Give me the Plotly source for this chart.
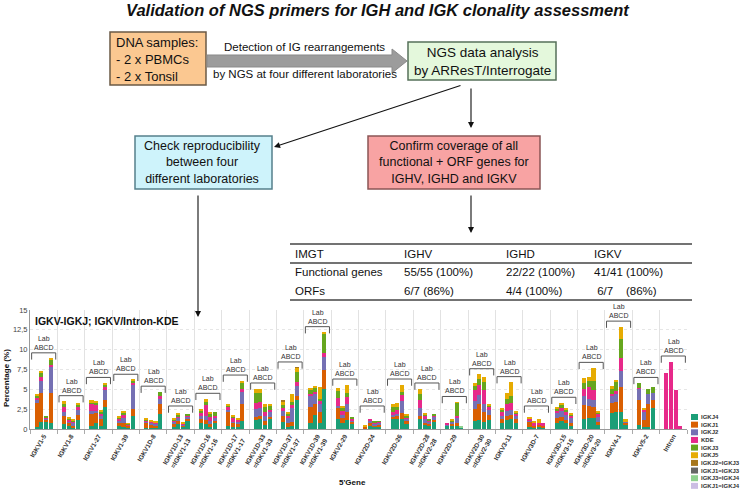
import plotly.graph_objects as go

W, H = 740, 489

# ---------------- data ----------------
genes = ["IGKV1-5", "IGKV1-8", "IGKV1-27", "IGKV1-39", "IGKV1D-8",
         "IGKV1D-13<br>=IGKV1-13", "IGKV1D-16<br>=IGKV1-16", "IGKV1D-17<br>=IGKV1-17",
         "IGKV1D-33<br>=IGKV1-33", "IGKV1D-37<br>=IGKV1-37", "IGKV1D-39<br>=IGKV1-39",
         "IGKV2-29", "IGKV2D-24", "IGKV2D-26", "IGKV2D-28<br>=IGKV2-28", "IGKV2D-29",
         "IGKV2D-30<br>=IGKV2-30", "IGKV3-11", "IGKV3D-7", "IGKV3D-15<br>=IGKV3-15",
         "IGKV3D-20<br>=IGKV3-20", "IGKV4-1", "IGKV5-2", "Intron"]
labs = ["A", "B", "C", "D"]

series_names = ["IGKJ4", "IGKJ1", "IGKJ2", "KDE", "IGKJ3", "IGKJ5",
                "IGKJ2=IGKJ3", "IGKJ1=IGKJ3", "IGKJ3=IGKJ4", "IGKJ1=IGKJ4"]
series_colors = ["#1b9e77", "#d95f02", "#7570b3", "#e7298a", "#66a61e", "#e6ab02",
                 "#a6761d", "#666666", "#8fd18f", "#cbbde3"]

# values per gene: [lab A, lab B, lab C, lab D]  (percentage)
IGKJ4 = [[0.2, 0.9, 1.0, 0.8], [0.6, 0.4, 0.1, 1.1], [0.4, 0.8, 0.4, 2.8], [0.4, 0.3, 0.2, 1.7],
         [0.1, 0.1, 0.1, 1.9], [0.3, 0.6, 0.2, 1.0], [0.8, 0.6, 0.3, 0.7], [0.4, 0.2, 0.2, 1.0],
         [1.1, 1.2, 0.5, 1.2], [0.9, 0.3, 0.4, 3.7], [0.7, 1.8, 0.8, 5.0], [1.2, 0.8, 1.1, 0.6],
         [0.1, 0.4, 0.2, 0.3], [1.2, 1.2, 1.3, 0.6], [1.2, 0.5, 0.4, 0.9], [0.4, 0.5, 0.4, 0.2],
         [1.0, 1.1, 0.9, 1.1], [0.8, 1.1, 1.2, 0.8], [0.2, 0.2, 0.2, 0.1], [0.8, 1.0, 0.7, 0.4],
         [1.2, 1.4, 1.4, 0.5], [2.0, 2.2, 2.2, 0.6], [0.5, 0.2, 0.2, 2.7], [0, 0, 0, 0]]
IGKJ1 = [[3.1, 3.6, 0.2, 3.8], [1.0, 0.4, 0.3, 0.7], [1.5, 1.2, 0.9, 0.9], [0.4, 0.5, 0.2, 0.8],
         [0.7, 0.5, 0.4, 1.2], [0.3, 0.4, 0.3, 0.3], [0.5, 0.5, 0.3, 0.3], [1.7, 0.6, 0.5, 2.2],
         [0.4, 0.4, 0.5, 0.3], [0.7, 0.5, 0.5, 0.5], [2.1, 1.3, 1.3, 2.4], [1.4, 0.6, 1.0, 0.3],
         [0.2, 0.3, 0.3, 0.3], [0.3, 0.4, 0.7, 0.4], [0.5, 0.3, 0.3, 0.2], [0.1, 0.2, 0.3, 0.0],
         [1.5, 2.0, 1.2, 0.7], [0.4, 0.6, 0.6, 0.4], [0.7, 0.2, 0.4, 0.3], [0.6, 0.5, 0.4, 0.4],
         [1.8, 1.5, 1.4, 0.4], [1.3, 1.2, 3.05, 0.2], [3.2, 0.9, 3.0, 1.0], [0, 0, 0, 0]]
IGKJ2 = [[0.4, 1.5, 0.15, 3.2], [0.6, 0.2, 0.4, 0.6], [0.4, 0.3, 0.4, 1.2], [0.3, 0.6, 0.1, 3.1],
         [0.2, 0.2, 0.2, 0.8], [0.3, 0.4, 0.1, 0.3], [0.4, 0.5, 0.4, 0.4], [0.3, 0.1, 0.2, 1.5],
         [1.0, 1.0, 0.7, 0.6], [0.7, 0.6, 1.8, 1.2], [1.3, 1.3, 1.0, 1.7], [0.3, 0.4, 1.1, 0.2],
         [0.0, 0.4, 0.2, 0.2], [0.3, 0.3, 1.5, 0.3], [1.0, 0.4, 0.2, 0.5], [0.1, 0.2, 0.8, 0.0],
         [1.0, 1.2, 1.0, 0.6], [0.5, 0.6, 0.6, 0.5], [0.1, 0.0, 0.0, 0.0], [0.6, 0.8, 0.7, 0.6],
         [1.1, 0.9, 0.9, 0.6], [0.8, 1.0, 2.1, 0.1], [1.4, 1.1, 1.2, 0.8], [0, 0, 0, 0]]
KDE = [[0.3, 0.5, 0.15, 0.3], [0.6, 0.2, 0.2, 0.4], [0.9, 0.7, 0.3, 0.4], [0.2, 0.4, 0.1, 0.2],
       [0.1, 0.1, 0.1, 0.2], [0.2, 0.2, 0.1, 0.1], [0.4, 1.4, 0.5, 0.2], [0.4, 0.6, 0.3, 0.3],
       [0.8, 0.8, 0.5, 0.3], [0.4, 0.3, 0.3, 0.5], [0.3, 0.3, 0.5, 0.5], [1.0, 0.5, 0.8, 0.2],
       [0.05, 0.2, 0.1, 0.1], [0.4, 0.5, 0.8, 0.2], [0.9, 0.5, 0.2, 0.1], [0.2, 0.1, 0.1, 0.0],
       [1.4, 1.2, 1.8, 0.4], [0.4, 0.9, 0.9, 0.3], [0.3, 0.4, 0.2, 0.3], [0.3, 0.4, 0.4, 0.3],
       [0.9, 1.5, 1.2, 0.4], [0.3, 0.4, 1.65, 0.0], [0.1, 0.2, 0.0, 0.0], [7.0, 8.5, 4.9, 0.4]]
IGKJ3 = [[0.2, 0.5, 0.1, 0.6], [0.3, 0.1, 0.1, 0.3], [0.2, 0.3, 0.2, 0.3], [0.1, 0.3, 0.05, 0.3],
         [0.1, 0.1, 0.0, 0.6], [0.1, 0.2, 0.0, 0.2], [0.2, 0.4, 0.4, 0.5], [0.2, 0.1, 0.0, 0.8],
         [1.3, 1.2, 0.6, 0.5], [0.3, 0.2, 0.4, 1.3], [0.6, 0.5, 0.2, 2.4], [0.9, 0.3, 0.6, 0.1],
         [0.0, 0.0, 0.1, 0.1], [0.6, 0.4, 0.4, 0.2], [0.8, 0.1, 0.1, 0.1], [0.0, 0.1, 1.7, 0.0],
         [0.5, 0.8, 1.0, 0.2], [0.3, 0.6, 0.9, 0.1], [0.0, 0.0, 0.0, 0.0], [0.3, 0.3, 0.2, 0.1],
         [0.8, 0.8, 1.2, 0.2], [0.7, 1.1, 2.4, 0.0], [0.6, 0.0, 0.7, 0.75], [0, 0, 0, 0]]
IGKJ5 = [[0.2, 0.35, 0.0, 0.2], [0.4, 0.1, 0.1, 0.1], [0.2, 0.2, 0.2, 0.2], [0.2, 0.2, 0.05, 0.1],
         [0.1, 0.1, 0.1, 0.0], [0.1, 0.1, 0.1, 0.0], [0.1, 0.4, 0.3, 0.0], [0.2, 0.1, 0.1, 0.3],
         [0.5, 0.4, 0.4, 0.2], [0.5, 0.2, 1.0, 0.5], [0.2, 0.2, 1.5, 0.2], [0.4, 0.3, 1.0, 0.0],
         [0.05, 0.0, 0.0, 0.0], [0.3, 0.5, 0.9, 0.1], [0.7, 0.1, 0.0, 0.0], [0.0, 0.1, 0.1, 0.0],
         [0.4, 0.6, 0.7, 0.1], [0.3, 0.8, 1.7, 0.1], [0.2, 0.1, 0.4, 0.0], [0.2, 0.3, 0.2, 0.1],
         [0.6, 0.5, 1.6, 0.2], [0.3, 0.3, 1.5, 0.3], [0.0, 0.3, 0.0, 0.0], [0, 0, 0, 0]]
IGKJ2_IGKJ3 = [[0, 0, 0, 0]] * 9 + [[0.05, 0, 0, 0.05]] + [[0, 0, 0, 0]] * 14
IGKJ1_IGKJ3 = [[0, 0, 0, 0]] * 24
IGKJ3_IGKJ4 = [[0, 0, 0, 0]] * 15 + [[0, 0, 0, 0.2]] + [[0, 0, 0, 0]] * 8
IGKJ1_IGKJ4 = [[0, 0, 0, 0]] * 24

series_values = [IGKJ4, IGKJ1, IGKJ2, KDE, IGKJ3, IGKJ5,
                 IGKJ2_IGKJ3, IGKJ1_IGKJ3, IGKJ3_IGKJ4, IGKJ1_IGKJ4]

y_ticks = [0, 2.5, 5, 7.5, 10, 12.5, 15]
y_ticktext = ["0", "2,5", "5", "7,5", "10", "12,5", "15"]

table_cols = ["IMGT", "IGHV", "IGHD", "IGKV"]
table_rows = [["Functional genes", "55/55 (100%)", "22/22 (100%)", "41/41 (100%)"],
              ["ORFs", "6/7 (86%)", "4/4 (100%)", "\u00a06/7\u00a0\u00a0\u00a0\u00a0(86%)"]]

# ---------------- helpers ----------------
def PX(x):
    return x / W


def PY(y):
    return 1 - y / H


FONT = "Liberation Sans, Arial, sans-serif"
lab_offsets = [-0.255, -0.085, 0.085, 0.255]

fig = go.Figure()

xs = [g + lab_offsets[k] for g in range(len(genes)) for k in range(len(labs))]
for name, col, vals in zip(series_names, series_colors, series_values):
    ys = [vals[g][k] for g in range(len(genes)) for k in range(len(labs))]
    fig.add_trace(go.Bar(x=xs, y=ys, name=name, marker=dict(color=col, line=dict(width=0)),
                         width=0.15, showlegend=False))

# group totals -> brackets "Lab ABCD"
totals = []
for g in range(len(genes)):
    totals.append(max(sum(sv[g][k] for sv in series_values) for k in range(len(labs))))

bx, by = [], []
annotations = []
for g, t in enumerate(totals):
    top = max(t + 0.7, 2.9)
    bx += [g - 0.44, g - 0.44, g + 0.44, g + 0.44, None]
    by += [top - 0.85, top, top, top - 0.85, None]
    annotations.append(dict(x=g, y=top, xref="x", yref="y", text="Lab<br>ABCD",
                            showarrow=False, yanchor="bottom", yshift=0,
                            font=dict(size=7, color="#333", family=FONT)))
fig.add_trace(go.Scatter(x=bx, y=by, mode="lines", line=dict(color="#555", width=1),
                         showlegend=False, hoverinfo="skip", cliponaxis=False))

# ---------------- flowchart ----------------
shapes = []


def box(x0, y0, x1, y1, fill, line):
    shapes.append(dict(type="rect", xref="paper", yref="paper", x0=PX(x0), x1=PX(x1),
                       y0=PY(y1), y1=PY(y0), fillcolor=fill, line=dict(color=line, width=1.5),
                       layer="above"))


box(110, 32, 206, 85, "#fbc891", "#6b5a45")
box(408, 42, 556, 80, "#e4f8dc", "#55705a")
box(135, 136, 272, 189, "#cef3fb", "#55808c")
box(368, 136, 540, 189, "#f8a3a3", "#8a5555")

# grey block arrow
pts = [(207, 55), (392, 55), (392, 49), (407, 61), (392, 73), (392, 67), (207, 67)]
path = "M " + " L ".join(f"{PX(a):.5f},{PY(b):.5f}" for a, b in pts) + " Z"
shapes.append(dict(type="path", xref="paper", yref="paper", path=path,
                   fillcolor="#9c9c9c", line=dict(color="#8a8a8a", width=1)))

# table lines
for yy in (244, 263, 300):
    shapes.append(dict(type="line", xref="paper", yref="paper", x0=PX(290), x1=PX(692),
                       y0=PY(yy), y1=PY(yy), line=dict(color="#444", width=1.5)))

# legend swatches
leg_y0, leg_dy = 417, 7.65
for i, (name, col) in enumerate(zip(series_names, series_colors)):
    yy = leg_y0 + i * leg_dy
    shapes.append(dict(type="rect", xref="paper", yref="paper", x0=PX(691), x1=PX(698),
                       y0=PY(yy + 3), y1=PY(yy - 3), fillcolor=col, line=dict(width=0)))
    annotations.append(dict(x=PX(699), y=PY(yy), xref="paper", yref="paper", text=name,
                            xanchor="left", yanchor="middle", showarrow=False,
                            font=dict(size=6, color="#333", family=FONT, weight="bold")))


def text(x, y, s, size, xanchor="center", yanchor="middle", **kw):
    annotations.append(dict(x=PX(x), y=PY(y), xref="paper", yref="paper", text=s,
                            showarrow=False, xanchor=xanchor, yanchor=yanchor,
                            font=dict(size=size, color="#111", family=FONT), **kw))


text(378, 10, "<b><i>Validation of NGS primers for IGH and IGK clonality assessment</i></b>", 16.5)
text(114, 59, "DNA samples:<br>- 2 x PBMCs<br>- 2 x Tonsil", 13, xanchor="left", align="left")
text(304, 47, "Detection of IG rearrangements", 11.5)
text(305, 74, "by NGS at four different laboratories", 11.5)
text(482, 62, "NGS data analysis<br>by ARResT/Interrogate", 13.5)
text(203, 163, "Check reproducibility<br>between four<br>different laboratories", 12.5)
text(454, 163, "Confirm coverage of all<br>functional + ORF genes for<br>IGHV, IGHD and IGKV", 12.5)

# table text
col_x = [293, 402, 504, 592]
for cx, s in zip(col_x, table_cols):
    text(cx, 254, s, 11.5, xanchor="left")
for r, row in enumerate(table_rows):
    for cx, s in zip(col_x, row):
        text(cx, 272 + r * 19, s, 11.5, xanchor="left")

# chart texts
text(33, 321, "<b>IGKV-IGKJ; IGKV/Intron-KDE</b>", 10.5, xanchor="left")
text(6, 378, "<b>Percentage (%)</b>", 8, textangle=-90)
text(352, 482, "<b>5'Gene</b>", 8)


def arrow(x0, y0, x1, y1):
    annotations.append(dict(x=PX(x1), y=PY(y1), xref="paper", yref="paper", text="",
                            showarrow=True, ax=x0 - x1, ay=y0 - y1, axref="pixel", ayref="pixel",
                            arrowhead=2, arrowsize=1.1, arrowwidth=1.1, arrowcolor="#111"))


arrow(462, 85, 274, 147)
arrow(471, 87, 471, 128)
arrow(198, 194, 198, 317)
arrow(471, 194, 471, 233)

fig.update_layout(
    width=W, height=H, margin=dict(l=0, r=0, t=0, b=0),
    paper_bgcolor="white", plot_bgcolor="white",
    barmode="stack", bargap=0,
    font=dict(family=FONT),
    shapes=shapes, annotations=annotations,
    xaxis=dict(domain=[PX(30), PX(687)], range=[-0.5, len(genes) - 0.5],
               tickmode="array", tickvals=list(range(len(genes))), ticktext=genes,
               tickangle=-60, tickfont=dict(size=6.5, color="#333", weight="bold"),
               showgrid=False, showline=True, linecolor="#999", linewidth=1, ticks="",
               zeroline=False, automargin=False,
               minor=dict(tickmode="array", tickvals=[g + 0.5 for g in range(-1, len(genes))],
                          showgrid=True, gridcolor="#e2e2e2", gridwidth=1,
                          ticks="outside", ticklen=4, tickcolor="#aaa")),
    yaxis=dict(domain=[1 - 429 / H, 1 - 310 / H], range=[0, 15],
               tickmode="array", tickvals=y_ticks, ticktext=y_ticktext,
               tickfont=dict(size=7.5, color="#444"),
               showgrid=True, gridcolor="#e6e6e6", griddash="dot",
               showline=True, linecolor="#999", linewidth=1, zeroline=False,
               ticks="", automargin=False),
)

fig.write_html("out.html", config={"displayModeBar": False},
               post_script="document.body.style.margin='0';document.body.style.overflow='hidden';")
